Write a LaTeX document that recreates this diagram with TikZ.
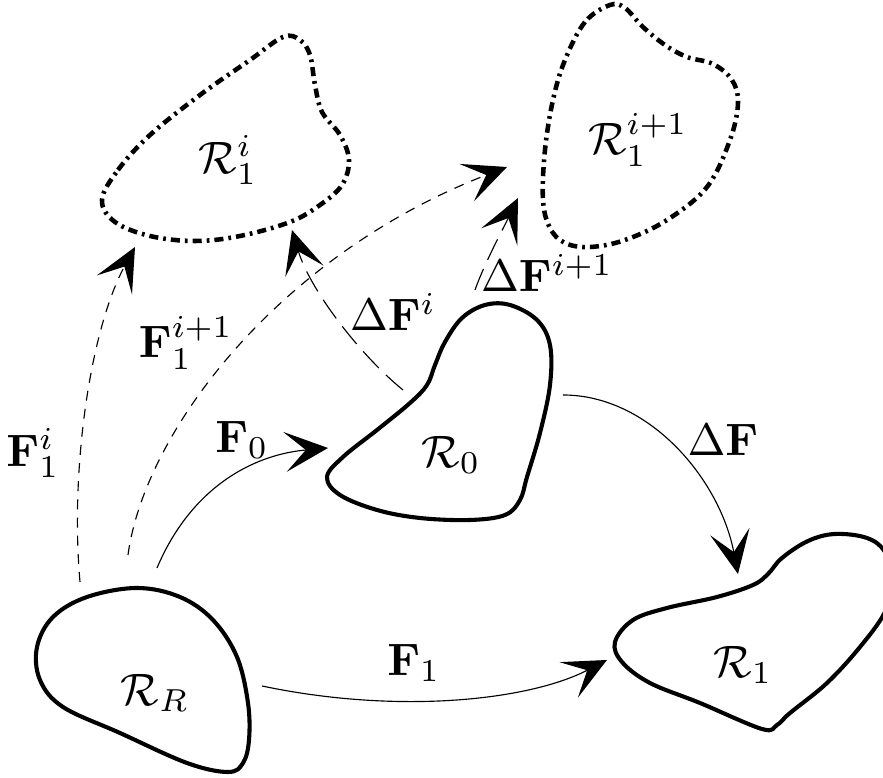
\documentclass[tikz,border=0pt]{standalone}
\usetikzlibrary{arrows.meta}
\tikzset{
  blob/.style={line width=0.9pt, line join=round},
  dblob/.style={line width=1pt, dash pattern=on 2pt off 1.1pt on 0.6pt off 1.1pt},
  tip/.style={-{Stealth[length=9.5pt,width=8.8pt,inset=4.6pt]}},
  solidarr/.style={tip, line width=0.25pt},
  sdash/.style={tip, line width=0.25pt, dash pattern=on 2.2pt off 1.8pt},
  ldash/.style={tip, line width=0.25pt, dash pattern=on 5pt off 2.2pt},
  lab/.style={inner sep=0pt}
}
\begin{document}
\begin{tikzpicture}[x=0.22pt,y=-0.22pt]
\clip (0,0) rectangle (883,778);
% regions
\draw[dblob] plot[smooth cycle, tension=0.6] coordinates {(102,200) (118,170) (150,135) (200,95) (250,60) (283,37) (300,40) (310,55) (315,85) (322,112) (340,135) (349,160) (342,185) (320,205) (290,222) (240,236) (195,241) (150,236) (115,222)};
\draw[dblob] plot[smooth cycle, tension=0.6] coordinates {(610,5) (585,22) (565,60) (553,100) (545,150) (543,200) (550,228) (565,243) (590,247) (625,240) (667,220) (707,187) (730,140) (738,103) (732,80) (713,64) (687,57) (665,45) (643,27) (625,8)};
\draw[blob] plot[smooth cycle, tension=0.6] coordinates {(510,305) (537,320) (550,345) (550,385) (540,433) (527,477) (520,500) (505,515) (470,520) (420,518) (377,510) (340,495) (327,477) (343,457) (377,430) (410,403) (427,385) (435,365) (445,342) (462,318) (485,305)};
\draw[blob] plot[smooth cycle, tension=0.6] coordinates {(137,588) (180,597) (213,620) (237,657) (248,703) (249,740) (243,763) (228,772) (187,763) (120,733) (63,707) (40,680) (37,647) (53,617) (87,597)};
\draw[blob] plot[smooth cycle, tension=0.6] coordinates {(615,642) (633,620) (667,608) (717,597) (753,585) (768,574) (782,558) (808,541) (835,534) (867,538) (885,552) (893,580) (885,612) (860,647) (827,683) (790,713) (777,725) (762,729) (700,703) (650,683) (622,662)};
% region labels
\node[lab] (r1i) at (228,160) {$\mathcal{R}_1^i$};
\node[lab] (r1ip) at (638,140) {$\mathcal{R}_1^{i+1}$};
\node[lab] (r0) at (451,455) {$\mathcal{R}_0$};
\node[lab] (rR) at (155,693) {$\mathcal{R}_R$};
\node[lab] (r1) at (743,665) {$\mathcal{R}_1$};
% arrow end points
\coordinate (a1s) at (80,582);   \coordinate (a1e) at (135,247);
\coordinate (a2s) at (128,555);  \coordinate (a2e) at (507,167);
\coordinate (a3s) at (157,568);  \coordinate (a3e) at (328,448);
\coordinate (a4s) at (262,686);  \coordinate (a4e) at (607,660);
\coordinate (a5s) at (563,395);  \coordinate (a5e) at (738,574);
\coordinate (a6s) at (403,390);  \coordinate (a6e) at (292,230);
\coordinate (a7s) at (475,290);  \coordinate (a7e) at (518,198);
% arrows
\draw[sdash] (a1s) .. controls (70,470) and (90,330) .. (a1e);
\draw[sdash] (a2s) .. controls (145,430) and (280,255) .. (a2e);
\draw[solidarr] (a3s) .. controls (190,490) and (250,455) .. (a3e);
\draw[solidarr] (a4s) .. controls (400,715) and (530,700) .. (a4e);
\draw[solidarr] (a5s) .. controls (650,395) and (720,480) .. (a5e);
\draw[ldash] (a6s) .. controls (360,355) and (310,290) .. (a6e);
\draw[ldash] (a7s) .. controls (485,262) and (505,225) .. (a7e);
% arrow labels
\node[lab] (lF1i) at (33,453) {$\mathbf{F}_1^i$};
\node[lab] (lF1ip) at (186,343) {$\mathbf{F}_1^{i+1}$};
\node[lab] (ldFi) at (393,312) {$\Delta\mathbf{F}^i$};
\node[lab] (ldFip) at (547,273) {$\Delta\mathbf{F}^{i+1}$};
\node[lab] (lF0) at (242,440) {$\mathbf{F}_0$};
\node[lab] (ldF) at (723,440) {$\Delta\mathbf{F}$};
\node[lab] (lF1) at (414,663) {$\mathbf{F}_1$};
\end{tikzpicture}
\end{document}
